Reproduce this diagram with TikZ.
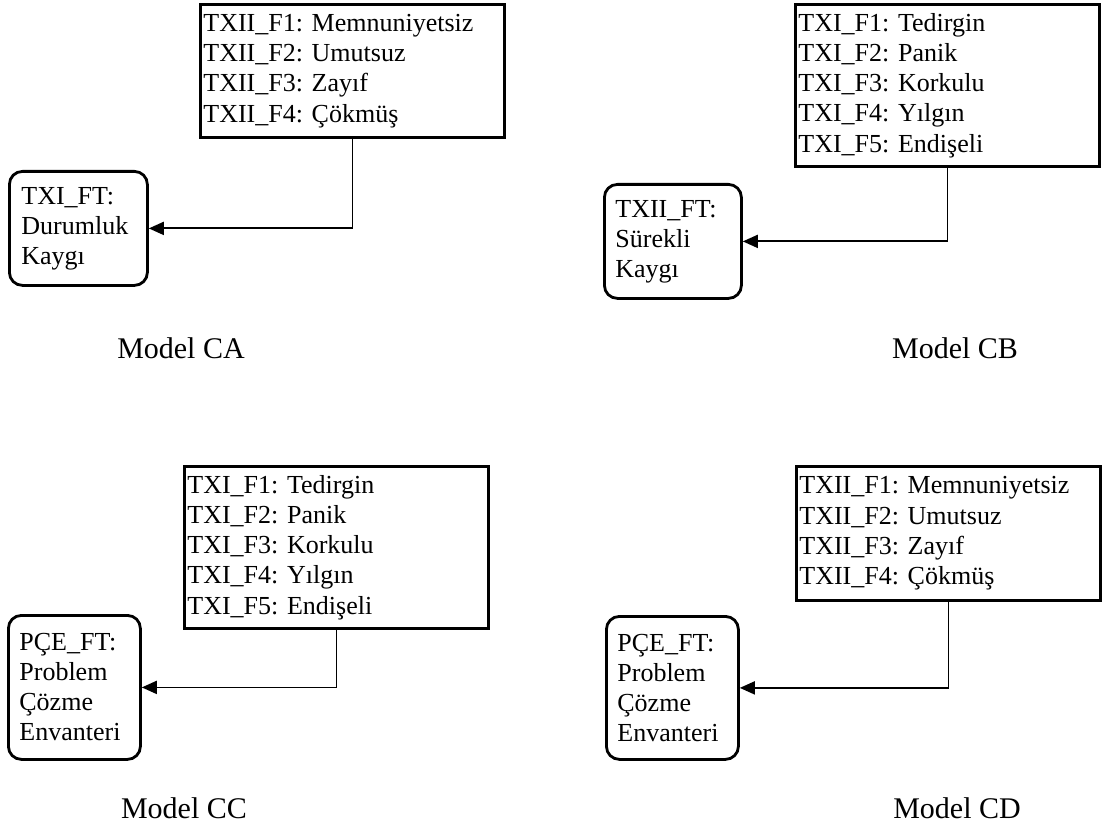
\documentclass[tikz,border=0pt]{standalone}
\usepackage{fontspec}
\setmainfont{Liberation Serif}
\usetikzlibrary{arrows.meta}
\frenchspacing
\tikzset{
  factbox/.style={draw, line width=2.8pt, rectangle, anchor=north west, inner xsep=3pt, inner ysep=0pt,
    text width=298pt, align=left, font=\fontsize{26}{30.3}\selectfont},
  latentbox/.style={draw, line width=2.8pt, rectangle, rounded corners=13pt, anchor=north west,
    inner ysep=0pt, align=left, font=\fontsize{26}{30}\selectfont},
  conn/.style={line width=1.8pt, -{Triangle[length=15pt,width=13pt]}},
  modellabel/.style={font=\fontsize{30}{36}\selectfont, anchor=base, inner sep=0pt}
}
\begin{document}
\begin{tikzpicture}[x=1pt,y=-1pt]
\useasboundingbox (0,0) rectangle (1103,829);
% Model CA
\node[factbox, minimum height=133pt] (fa) at (199,3) {TXII\_F1: Memnuniyetsiz\\TXII\_F2: Umutsuz\\TXII\_F3: Zayıf\\TXII\_F4: Çökmüş};
\node[latentbox, minimum height=114pt, inner xsep=12pt, text width=114pt] (la) at (8,170) {TXI\_FT:\\Durumluk\\Kaygı};
\draw[conn] (fa.south) |- (la.east);
\node[modellabel] (ca) at (181,358) {Model CA};
% Model CB
\node[factbox, minimum height=162pt] (fb) at (794,3) {TXI\_F1: Tedirgin\\TXI\_F2: Panik\\TXI\_F3: Korkulu\\TXI\_F4: Yılgın\\TXI\_F5: Endişeli};
\node[latentbox, minimum height=114pt, inner xsep=11pt, text width=115pt] (lb) at (603,183) {TXII\_FT:\\Sürekli\\Kaygı};
\draw[conn] (fb.south) |- (lb.east);
\node[modellabel] (cb) at (955,358) {Model CB};
% Model CC
\node[factbox, minimum height=162pt] (fc) at (183,465) {TXI\_F1: Tedirgin\\TXI\_F2: Panik\\TXI\_F3: Korkulu\\TXI\_F4: Yılgın\\TXI\_F5: Endişeli};
\node[latentbox, minimum height=144pt, inner xsep=11pt, text width=110pt] (lc) at (7,614) {PÇE\_FT:\\Problem\\Çözme\\Envanteri};
\draw[conn] (fc.south) |- (lc.east);
\node[modellabel] (cc) at (184,818) {Model CC};
% Model CD
\node[factbox, minimum height=134pt] (fd) at (795,465) {TXII\_F1: Memnuniyetsiz\\TXII\_F2: Umutsuz\\TXII\_F3: Zayıf\\TXII\_F4: Çökmüş};
\node[latentbox, minimum height=143pt, inner xsep=11pt, text width=110pt] (ld) at (605,615) {PÇE\_FT:\\Problem\\Çözme\\Envanteri};
\draw[conn] (fd.south) |- (ld.east);
\node[modellabel] (cd) at (957,818) {Model CD};
\end{tikzpicture}
\end{document}
